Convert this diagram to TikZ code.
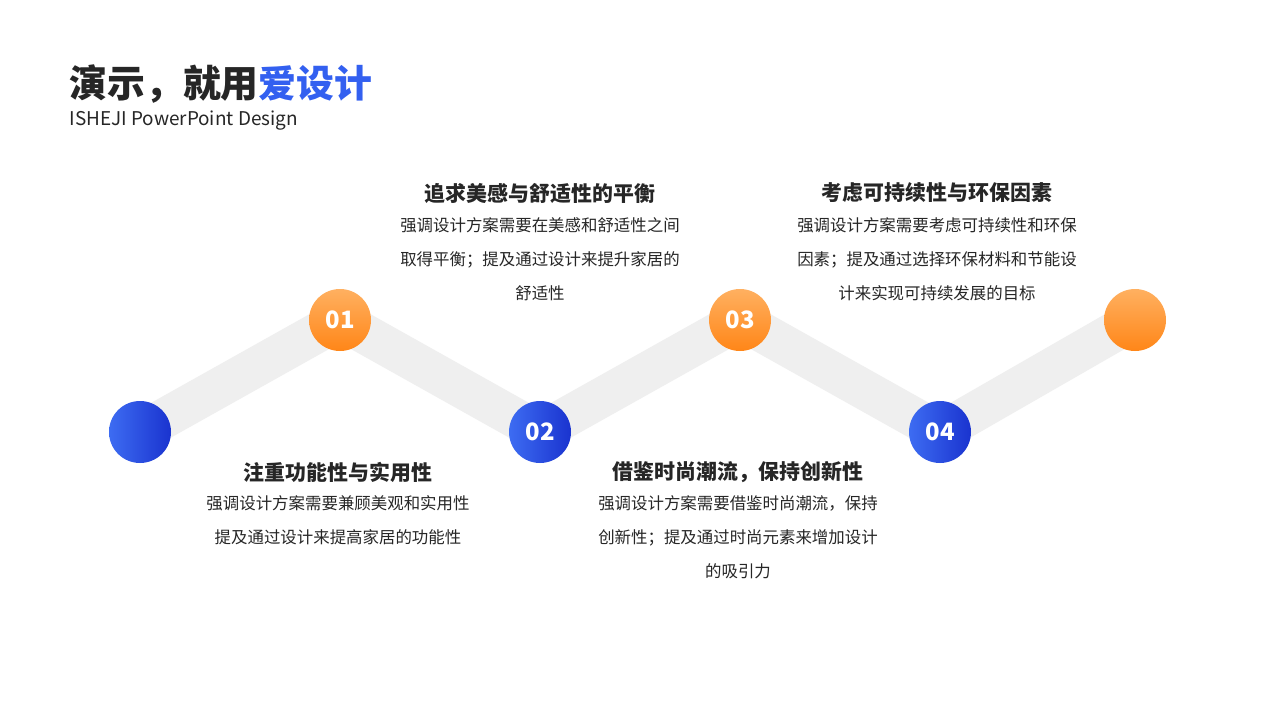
\documentclass[tikz,border=0pt]{standalone}
\usepackage{fontspec}
\setmainfont{Noto Sans CJK SC}
\usepackage{tikz}
\definecolor{accblue}{HTML}{3360F0}
\definecolor{blueL}{HTML}{3D6CF2}
\definecolor{blueD}{HTML}{1A33CF}
\definecolor{orgL}{HTML}{FFB060}
\definecolor{orgD}{HTML}{FF8618}
\definecolor{band}{HTML}{EFEFEF}
\definecolor{txt}{HTML}{262626}
\tikzset{
  bluedot/.style={circle,minimum size=62bp,inner sep=0,left color=blueL,right color=blueD,text=white,font=\fontsize{24}{24}\selectfont\bfseries},
  orangedot/.style={circle,minimum size=62bp,inner sep=0,top color=orgL,bottom color=orgD,text=white,font=\fontsize{24}{24}\selectfont\bfseries},
  headtext/.style={text=txt,font=\fontsize{21}{24}\selectfont\bfseries},
  bodytext/.style={text=txt,align=center,font=\fontsize{16.5}{34}\selectfont,anchor=north}
}
\begin{document}
\begin{tikzpicture}[x=1bp,y=-1bp]
 \useasboundingbox[fill=white] (0,0) rectangle (1280,720);

 % Title
 \node[anchor=west,text=txt,font=\fontsize{38}{40}\selectfont\bfseries] (title) at (66,84) {演示，就用\textcolor{accblue}{爱设计}};
 \node[anchor=west,text=txt,font=\fontsize{19}{20}\selectfont] (sub) at (66,121) {ISHEJI PowerPoint Design};

 % Steps
 \coordinate (p0) at (140,432);
 \coordinate (p1) at (340,320);
 \coordinate (p2) at (540,432);
 \coordinate (p3) at (740,320);
 \coordinate (p4) at (940,432);
 \coordinate (p5) at (1135,320);
 \draw[band,line width=40bp,line join=miter] (p0) -- (p1) -- (p2) -- (p3) -- (p4) -- (p5);

 \node[bluedot] (d0) at (p0) {};
 \node[orangedot] (d1) at (p1) {01};
 \node[bluedot] (d2) at (p2) {02};
 \node[orangedot] (d3) at (p3) {03};
 \node[bluedot] (d4) at (p4) {04};
 \node[orangedot] (d5) at (p5) {};

 % Texts
 \node[headtext] (h1) at (338,472) {注重功能性与实用性};
 \node[bodytext] (b1) at (338,492) {强调设计方案需要兼顾美观和实用性\\提及通过设计来提高家居的功能性};
 \node[headtext] (h2) at (540,193) {追求美感与舒适性的平衡};
 \node[bodytext] (b2) at (540,214) {强调设计方案需要在美感和舒适性之间\\取得平衡；提及通过设计来提升家居的\\舒适性};
 \node[headtext] (h3) at (738,472) {借鉴时尚潮流，保持创新性};
 \node[bodytext] (b3) at (738,492) {强调设计方案需要借鉴时尚潮流，保持\\创新性；提及通过时尚元素来增加设计\\的吸引力};
 \node[headtext] (h4) at (937,193) {考虑可持续性与环保因素};
 \node[bodytext] (b4) at (937,214) {强调设计方案需要考虑可持续性和环保\\因素；提及通过选择环保材料和节能设\\计来实现可持续发展的目标};
\end{tikzpicture}
\end{document}
